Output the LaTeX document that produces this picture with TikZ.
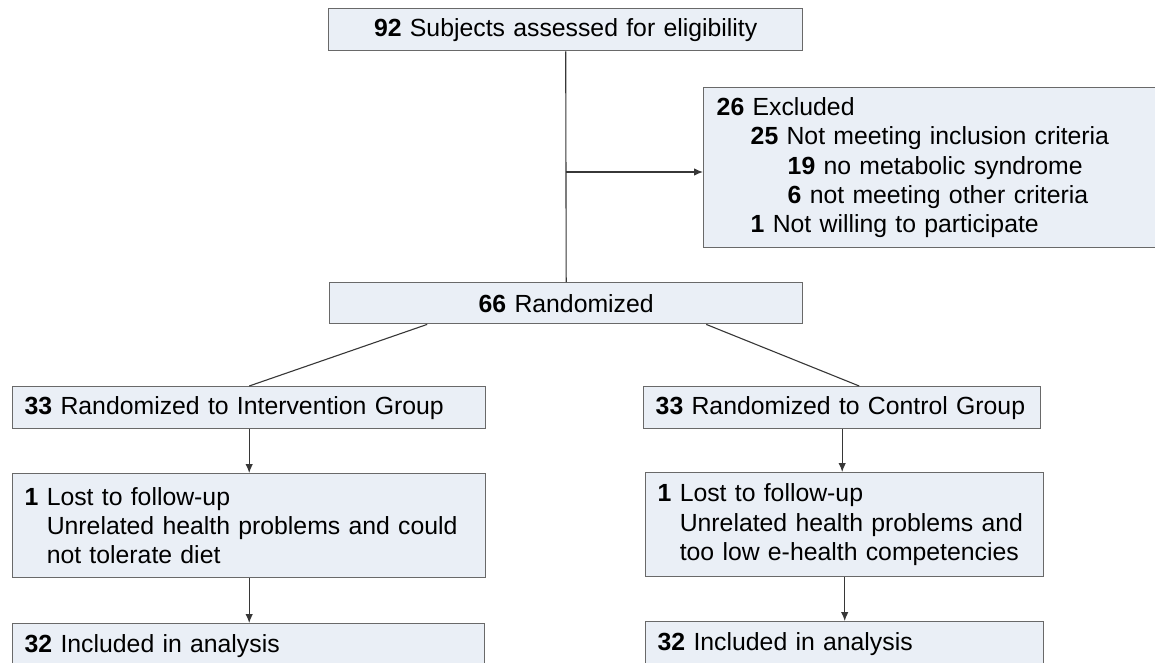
\documentclass[tikz,border=0pt]{standalone}
\usepackage{fontspec}
\setmainfont{Liberation Sans}
\usetikzlibrary{arrows.meta,calc}
\definecolor{boxfill}{RGB}{234,239,246}
\definecolor{boxline}{RGB}{105,105,105}
\definecolor{conn}{RGB}{55,55,55}
\newcommand{\oneind}{\hphantom{\textbf{1} }}
\tikzset{
  fbox/.style={draw=boxline, line width=1.4pt, fill=boxfill, anchor=north west,
    inner xsep=12pt, inner ysep=0pt, align=left,
    font=\fontsize{24.8}{29.3}\selectfont},
  conline/.style={draw=conn, line width=1.1pt},
  conarrow/.style={conline, -{Latex[length=9pt,width=7.5pt]}}
}
\begin{document}
\begin{tikzpicture}[x=1pt,y=-1pt]
\clip (0,0) rectangle (1155,663);
\fill[white] (0,0) rectangle (1155,663);
% boxes
\node[fbox, minimum width=474pt, minimum height=42pt, align=center, text width=450pt] (top) at (328,8) {\textbf{92} Subjects assessed for eligibility};
\node[fbox, minimum width=460pt, minimum height=160pt, text width=436pt, inner xsep=13pt] (excl) at (703,87)
 {\textbf{26} Excluded\\
  \hspace*{34pt}\textbf{25} Not meeting inclusion criteria\\
  \hspace*{71pt}\textbf{19} no metabolic syndrome\\
  \hspace*{71pt}\textbf{6} not meeting other criteria\\
  \hspace*{34pt}\textbf{1} Not willing to participate};
\node[fbox, minimum width=473pt, minimum height=41pt, align=center, text width=449pt] (rand) at (329,282) {\textbf{66} Randomized};
\node[fbox, minimum width=473pt, minimum height=42pt, text width=449pt, inner xsep=11pt] (int) at (12,386) {\textbf{33} Randomized to Intervention Group};
\node[fbox, minimum width=397pt, minimum height=42pt, text width=373pt] (ctrl) at (643,386) {\textbf{33} Randomized to Control Group};
\node[fbox, minimum width=473pt, minimum height=104pt, text width=449pt] (lostL) at (12,473)
 {\textbf{1} Lost to follow-up\\
  \oneind Unrelated health problems and could\\
  \oneind not tolerate diet};
\node[fbox, minimum width=398pt, minimum height=104pt, text width=374pt, inner xsep=10pt] (lostR) at (645,472)
 {\textbf{1} Lost to follow-up\\
  \oneind Unrelated health problems and\\
  \oneind too low e-health competencies};
\node[fbox, minimum width=472pt, minimum height=44pt, text width=448pt] (incL) at (12,623) {\textbf{32} Included in analysis};
\node[fbox, minimum width=398pt, minimum height=44pt, text width=374pt, inner xsep=10pt] (incR) at (645,621) {\textbf{32} Included in analysis};
% connectors
\draw[conline] (top.south) -- (rand.north);
\coordinate (j) at (565.5,172);
\draw[conarrow] (j) -- (j -| excl.west);
\draw[conline] ([xshift=-139pt]rand.south) -- (int.north);
\draw[conline] ([xshift=140pt]rand.south) -- ([xshift=17pt]ctrl.north);
\draw[conarrow] (int.south) -- (int.south |- lostL.north);
\draw[conarrow] (ctrl.south) -- (ctrl.south |- lostR.north);
\draw[conarrow] (lostL.south) -- (lostL.south |- incL.north);
\draw[conarrow] (lostR.south) -- (lostR.south |- incR.north);
\end{tikzpicture}
\end{document}
